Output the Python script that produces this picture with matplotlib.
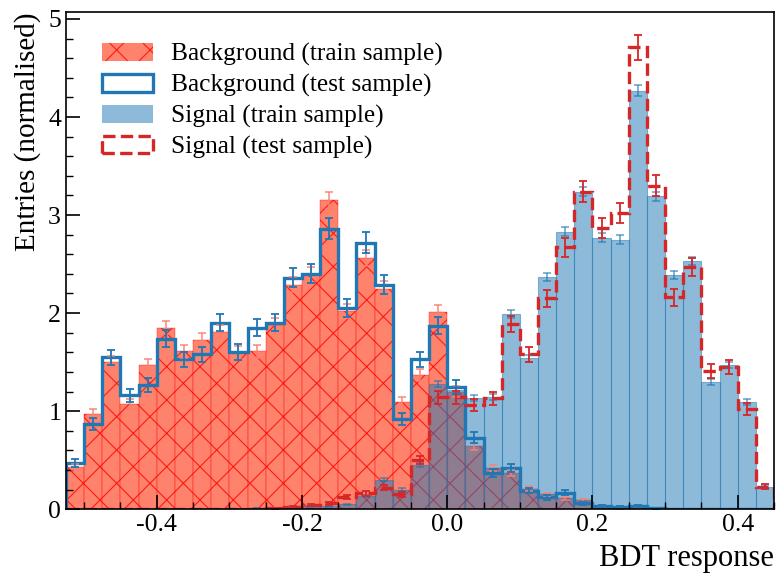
import numpy as np
import matplotlib
matplotlib.use('Agg')
import matplotlib.pyplot as plt
from matplotlib.patches import Patch
from matplotlib.ticker import MultipleLocator

plt.rcParams['font.family'] = 'serif'
plt.rcParams['font.serif'] = ['Liberation Serif', 'DejaVu Serif']
plt.rcParams['axes.unicode_minus'] = False
plt.rcParams['hatch.linewidth'] = 0.8

#%% data (39 bins of width 0.025)
bin_edges = np.linspace(-0.525, 0.45, 40)

bkg_train = [0.43, 0.97, 1.50, 1.07, 1.47, 1.85, 1.61, 1.73, 1.81, 1.60,
             1.61, 1.88, 2.29, 2.39, 3.15, 2.02, 2.56, 2.25, 1.09, 1.37,
             2.01, 1.20, 0.64, 0.42, 0.37, 0.21, 0.15, 0.11, 0.09, 0.03,
             0.01, 0.02, 0.01, 0.0, 0.0, 0.0, 0.0, 0.0, 0.0]
bkg_test = [0.47, 0.87, 1.55, 1.16, 1.27, 1.74, 1.53, 1.58, 1.90, 1.60,
            1.85, 1.90, 2.36, 2.40, 2.86, 2.05, 2.72, 2.29, 0.92, 1.53,
            1.87, 1.25, 0.73, 0.37, 0.42, 0.19, 0.12, 0.17, 0.06, 0.03,
            0.02, 0.03, 0.01, 0.0, 0.0, 0.0, 0.0, 0.0, 0.0]
sig_train = [0.0, 0.0, 0.0, 0.0, 0.0, 0.0, 0.0, 0.0, 0.0, 0.0,
             0.01, 0.01, 0.02, 0.03, 0.03, 0.05, 0.13, 0.30, 0.20, 0.45,
             1.28, 1.22, 1.13, 1.14, 1.99, 1.54, 2.37, 2.83, 3.24, 2.77,
             2.75, 4.27, 3.19, 2.39, 2.53, 1.30, 1.47, 1.09, 0.23]
sig_test = [0.0, 0.0, 0.0, 0.0, 0.0, 0.0, 0.0, 0.0, 0.0, 0.0,
            0.0, 0.01, 0.02, 0.04, 0.06, 0.12, 0.16, 0.22, 0.15, 0.50,
            1.14, 1.14, 1.06, 1.13, 1.89, 1.58, 2.15, 2.67, 3.24, 2.87,
            3.02, 4.71, 3.30, 2.16, 2.47, 1.41, 1.45, 1.02, 0.23]

# statistical uncertainty scale of each sample (error = scale * sqrt(entries))
bkg_train_err_scale = 0.05
bkg_test_err_scale = 0.063
sig_train_err_scale = 0.028
sig_test_err_scale = 0.06

labels = ['Background (train sample)', 'Background (test sample)',
          'Signal (train sample)', 'Signal (test sample)']

#%% plot
centres = 0.5 * (bin_edges[1:] + bin_edges[:-1])
width = bin_edges[1] - bin_edges[0]


def draw_errors(ax, values, scale, **kw):
    values = np.asarray(values)
    keep = values > 0
    ax.errorbar(centres[keep], values[keep], yerr=scale * np.sqrt(values[keep]),
                fmt='none', capsize=3.2, elinewidth=1.3, capthick=1.3, **kw)


fig = plt.figure(figsize=(7.76, 5.76), dpi=100)
ax = fig.add_axes([0.085, 0.116, 0.9125, 0.863])

ax.bar(bin_edges[:-1], bkg_train, width=width, align='edge',
       facecolor='tomato', edgecolor='red', alpha=0.8, hatch='x', linewidth=0.3)
ax.bar(bin_edges[:-1], sig_train, width=width, align='edge',
       facecolor='tab:blue', edgecolor='tab:blue', alpha=0.5, linewidth=0.8)

draw_errors(ax, bkg_train, bkg_train_err_scale, ecolor='salmon', alpha=0.8)
draw_errors(ax, sig_train, sig_train_err_scale, ecolor='tab:blue', alpha=0.6)

ax.stairs(bkg_test, bin_edges, baseline=0, color='tab:blue', linewidth=2.4)
draw_errors(ax, bkg_test, bkg_test_err_scale, ecolor='tab:blue')

ax.stairs(sig_test, bin_edges, baseline=0, color='tab:red', linewidth=2.4,
          linestyle='--')
draw_errors(ax, sig_test, sig_test_err_scale, ecolor='tab:red')

ax.set_xlim(bin_edges[0], bin_edges[-1])
ax.set_ylim(0, 5.07)

ax.xaxis.set_major_locator(MultipleLocator(0.2))
ax.xaxis.set_minor_locator(MultipleLocator(0.05))
ax.yaxis.set_major_locator(MultipleLocator(1))
ax.yaxis.set_minor_locator(MultipleLocator(0.2))
ax.tick_params(which='both', direction='in', labelsize=18.5)
ax.tick_params(which='major', length=10, width=1.2)
ax.tick_params(which='minor', length=5, width=1.0)
for side in ax.spines.values():
    side.set_linewidth(1.2)

ax.set_xlabel('BDT response', fontsize=22, loc='right', labelpad=6)
ax.set_ylabel('Entries (normalised)', fontsize=21, loc='top', labelpad=5)

handles = [
    Patch(facecolor='tomato', edgecolor='red', alpha=0.8, hatch='x', linewidth=0),
    Patch(facecolor='none', edgecolor='tab:blue', linewidth=2.4),
    Patch(facecolor='tab:blue', alpha=0.5, linewidth=0),
    Patch(facecolor='none', edgecolor='tab:red', linewidth=2.4, linestyle='--'),
]
ax.legend(handles, labels, loc='upper left', bbox_to_anchor=(0.037, 0.958),
          borderaxespad=0, frameon=False, fontsize=18.3, handlelength=2.0,
          handleheight=0.7, labelspacing=0.3, handletextpad=0.7)

fig.savefig('out.png', dpi=100)
